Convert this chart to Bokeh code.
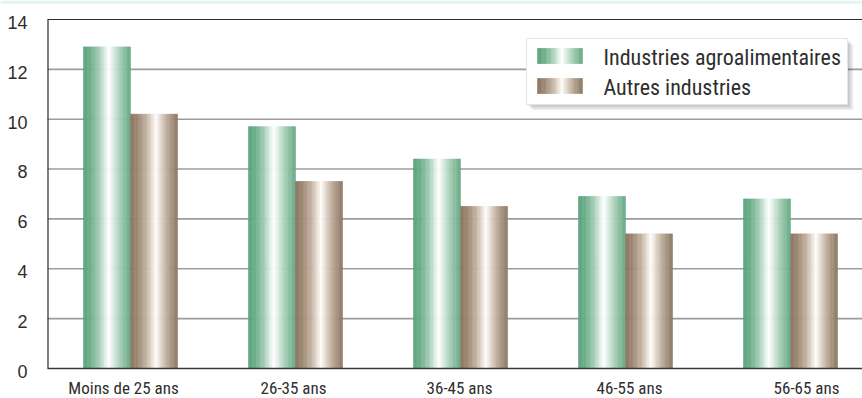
from bokeh.plotting import figure
from bokeh.models import Range1d, ColumnDataSource
from bokeh.core.properties import value
from bokeh.embed import file_html
from bokeh.resources import INLINE

# ---- data -------------------------------------------------------------
categories = ["Moins de 25 ans", "26-35 ans", "36-45 ans", "46-55 ans", "56-65 ans"]
agro = [12.9, 9.7, 8.4, 6.9, 6.8]          # Industries agroalimentaires
autres = [10.2, 7.5, 6.5, 5.4, 5.4]        # Autres industries
series_names = ["Industries agroalimentaires", "Autres industries"]
y_ticks = [0, 2, 4, 6, 8, 10, 12, 14]

# ---- geometry (the plotting frame covers the whole canvas) ------------
W, H = 862, 398
AXIS_COL = 47            # pixel column of the value axis
CENTER0 = 130            # pixel column of the first category centre
PX_X = 165.0             # pixels per category
PX_Y = 24.93             # pixels per unit of value
ZERO_ROW = 368           # pixel row of value 0
BAR_W = 47 / PX_X        # width of one bar in category units

TEXT_COLOR = "#2e2e2e"
NARROW = "Roboto Condensed"
BASELINE_FIX = 0.37      # svg text sits this fraction of its size below the anchor


def dx(px):
    """pixel column -> x data coordinate"""
    return (px - CENTER0) / PX_X


def dy(py):
    """pixel row -> y data coordinate"""
    return (ZERO_ROW - py) / PX_Y


def text_y(row, size):
    """data y for a text whose baseline should land on pixel row `row`"""
    return dy(row - BASELINE_FIX * size)


def hex2rgb(h):
    h = h.lstrip("#")
    return tuple(int(h[i:i + 2], 16) for i in (0, 2, 4))


def blend(stops, t):
    for (p0, c0), (p1, c1) in zip(stops, stops[1:]):
        if p0 <= t <= p1:
            f = (t - p0) / (p1 - p0) if p1 > p0 else 0
            a, b = hex2rgb(c0), hex2rgb(c1)
            return "#%02x%02x%02x" % tuple(round(a[k] + (b[k] - a[k]) * f) for k in range(3))
    return stops[-1][1]


GREEN = [(0.0, "#5aa37d"), (0.15, "#6cae8b"), (0.35, "#a9d0b9"),
         (0.50, "#eef6f1"), (0.55, "#ffffff"), (0.62, "#e3f0e8"),
         (0.80, "#a2cbb3"), (1.0, "#66ab86")]
BROWN = [(0.0, "#8a745f"), (0.15, "#9b8772"), (0.35, "#c6b5a4"),
         (0.50, "#f2ece5"), (0.55, "#ffffff"), (0.62, "#ebe2d9"),
         (0.80, "#baa795"), (1.0, "#8c7964")]

N_STRIPS = 36


def strips(lefts, rights, bottoms, tops, stops):
    """split each rectangle into vertical strips that carry a horizontal gradient"""
    d = dict(left=[], right=[], bottom=[], top=[], color=[])
    for l, r, b, t in zip(lefts, rights, bottoms, tops):
        w = (r - l) / N_STRIPS
        for k in range(N_STRIPS):
            d["left"].append(l + k * w)
            d["right"].append(l + (k + 1) * w)
            d["bottom"].append(b)
            d["top"].append(t)
            d["color"].append(blend(stops, (k + 0.5) / N_STRIPS))
    return ColumnDataSource(d)


# ---- figure -----------------------------------------------------------
p = figure(width=W, height=H, output_backend="svg", toolbar_location=None,
           x_range=Range1d(dx(0), dx(W)), y_range=Range1d(dy(H), dy(0)),
           min_border=0)
p.outline_line_color = None
p.background_fill_color = "white"
p.border_fill_color = "white"
p.axis.visible = False
p.grid.visible = False

# thin tinted band along the top edge
p.quad(left=dx(0), right=dx(W), bottom=dy(3.5), top=dy(0),
       fill_color="#e7f4f4", line_color=None)

# horizontal grid lines
inner = y_ticks[1:-1]
p.segment(x0=[dx(AXIS_COL)] * len(inner), x1=[dx(W)] * len(inner), y0=inner, y1=inner,
          line_color="#9c9c9c", line_width=1.6)

# frame lines: value axis and top border
p.segment(x0=[dx(AXIS_COL + 0.5)], x1=[dx(AXIS_COL + 0.5)],
          y0=[y_ticks[0]], y1=[y_ticks[-1]], line_color="#2a2a2a", line_width=1.2)
p.segment(x0=[dx(AXIS_COL)], x1=[dx(W)], y0=[y_ticks[-1]], y1=[y_ticks[-1]],
          line_color="#2a2a2a", line_width=1.2)

# value labels
y_size = 18
p.text(x=[dx(27)] * len(y_ticks),
       y=[v - (9.5 - BASELINE_FIX * y_size) / PX_Y for v in y_ticks],
       text=[str(v) for v in y_ticks], text_align="right", text_baseline="alphabetic",
       text_font=value("Liberation Sans"), text_font_size=f"{y_size}px",
       text_color=TEXT_COLOR)

# ---- bars -------------------------------------------------------------
idx = list(range(len(categories)))
src_g = strips([i - BAR_W for i in idx], [i for i in idx], [0] * len(idx), agro, GREEN)
src_b = strips([i for i in idx], [i + BAR_W for i in idx], [0] * len(idx), autres, BROWN)
for src in (src_g, src_b):
    p.quad(left="left", right="right", bottom="bottom", top="top", source=src,
           fill_color="color", line_color="color", line_width=0.6)

# baseline
p.segment(x0=[dx(AXIS_COL)], x1=[dx(W)], y0=[0], y1=[0],
          line_color="#3a3a3a", line_width=1.6)

# category labels below the baseline
x_size = 17
label_shift = [-7, -2, -1, 4, 16]
p.text(x=[i + s / PX_X for i, s in zip(idx, label_shift)],
       y=[text_y(393.5, x_size)] * len(idx),
       text=categories, text_align="center", text_baseline="alphabetic",
       text_font=value(NARROW), text_font_size=f"{x_size}px", text_color=TEXT_COLOR)

# ---- legend -----------------------------------------------------------
box_l, box_r, box_t, box_b = 526, 847, 38, 104
for k in range(1, 7):
    p.quad(left=dx(box_l + k), right=dx(box_r + k), top=dy(box_t + k), bottom=dy(box_b + k),
           fill_color="#000000", fill_alpha=0.045, line_color=None)
p.quad(left=dx(box_l), right=dx(box_r), top=dy(box_t), bottom=dy(box_b),
       fill_color="white", line_color="#e4e4e4", line_width=1)

sw_l, sw_r = 537, 582
sw_rows = [(48, 63), (78, 93)]
for (t, b), stops in zip(sw_rows, (GREEN, BROWN)):
    s = strips([dx(sw_l)], [dx(sw_r)], [dy(b)], [dy(t)], stops)
    p.quad(left="left", right="right", bottom="bottom", top="top", source=s,
           fill_color="color", line_color="color", line_width=0.6)

leg_size = 22
p.text(x=[dx(603), dx(603)], y=[text_y(65.5, leg_size), text_y(95.5, leg_size)],
       text=series_names, text_font=value(NARROW), text_font_size=f"{leg_size}px",
       text_color=TEXT_COLOR, text_baseline="alphabetic", text_align="left")

open("out.html", "w").write(file_html(p, INLINE))
